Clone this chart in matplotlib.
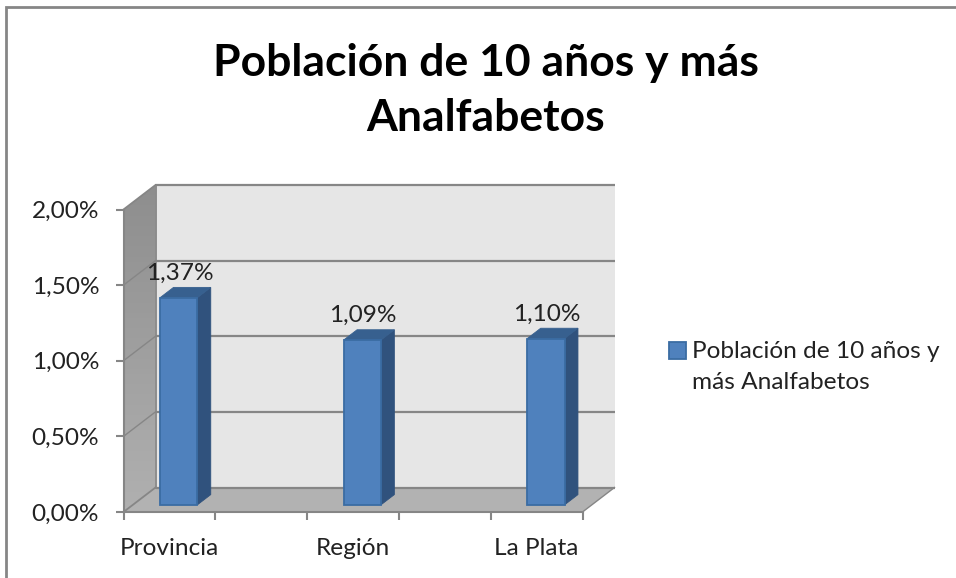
import numpy as np
import matplotlib
matplotlib.use("Agg")
import matplotlib.pyplot as plt
from matplotlib.colors import LinearSegmentedColormap
from matplotlib.patches import Polygon, Rectangle

categories = ["Provincia", "", "Región", "", "La Plata"]
values = [1.37, np.nan, 1.09, np.nan, 1.10]
value_labels = ["1,37%", "", "1,09%", "", "1,10%"]
y_ticks = [0.0, 0.5, 1.0, 1.5, 2.0]
y_tick_labels = ["0,00%", "0,50%", "1,00%", "1,50%", "2,00%"]
title = "Población de 10 años y más\nAnalfabetos"
series_name = "Población de 10 años y\nmás Analfabetos"

W, H = 956, 578
# front plane of the fake 3d box, in pixels from the top left
LEFT, RIGHT, TOP, BOTTOM = 123.5, 582.5, 209.5, 512.0

# depth of the box in data units
DX = 32.0 / ((RIGHT - LEFT) / 5)
DY = 24.5 / ((BOTTOM - TOP) / 2)
BAR_WIDTH = 0.406
BAR_D0, BAR_D1 = 0.29, 0.71
FONT_SIZE = 17.6
TEXT_COLOR = "#222222"
GRID = "#868686"


def pt(x, y, d):
    return (x + d * DX, y + d * DY)


plt.rcParams["font.family"] = ["Lato", "DejaVu Sans"]

fig = plt.figure(figsize=(W / 100, H / 100), dpi=100)
ax = fig.add_axes([LEFT / W, 1 - BOTTOM / H, (RIGHT - LEFT) / W, (BOTTOM - TOP) / H])
ax.patch.set_visible(False)

x0, x1 = -0.5, 4.5

# outer frame of the chart
fig.add_artist(Rectangle((5.5 / W, -0.1), 1.2, 1.1 - 7.5 / H, transform=fig.transFigure,
                         fill=False, edgecolor=GRID, linewidth=2))

# back wall, side wall, floor
back = [pt(x0, 0, 1), pt(x1, 0, 1), pt(x1, 2, 1), pt(x0, 2, 1)]
ax.add_patch(Polygon(back, closed=True, facecolor="#E6E6E6", edgecolor="none", zorder=1, clip_on=False))

side = [pt(x0, 0, 0), pt(x0, 0, 1), pt(x0, 2, 1), pt(x0, 2, 0)]
side_patch = Polygon(side, closed=True, facecolor="none", edgecolor="none")
ax.add_patch(side_patch)
side_patch.set_clip_on(False)
wall_cmap = LinearSegmentedColormap.from_list("wall", ["#B0B0B0", "#8E8E8E"])
shade = ax.imshow(np.linspace(0, 1, 64).reshape(-1, 1), cmap=wall_cmap,
                  extent=(x0, x0 + DX, 0, 2 + DY), origin="lower", aspect="auto", zorder=1)
# the wall sticks out above the axes, so clip to the figure and the wall shape only
shade.set_clip_box(fig.bbox)
shade.set_clip_path(side_patch)
ax.set_xlim(-0.5, 4.5)
ax.set_ylim(0, 2)

floor = [pt(x0, 0, 0), pt(x1, 0, 0), pt(x1, 0, 1), pt(x0, 0, 1)]
ax.add_patch(Polygon(floor, closed=True, facecolor="#B2B2B2", edgecolor="none", zorder=1, clip_on=False))

# gridlines run round the side wall and along the back
for v in y_ticks:
    xs, ys = zip(pt(x0, v, 0), pt(x0, v, 1), pt(x1, v, 1))
    lw = 1.0 if v not in (0.0, 2.0) else 1.3
    ax.plot(xs[1:], ys[1:], color=GRID, lw=1.6, zorder=2, clip_on=False, solid_capstyle="butt")
    ax.plot(xs[:2], ys[:2], color=GRID, lw=lw, zorder=2, clip_on=False)

xs, ys = zip(pt(x0, 0, 1), pt(x0, 2, 1))
ax.plot(xs, ys, color=GRID, lw=1.3, zorder=2, clip_on=False)
xs, ys = zip(pt(x1, 0, 0), pt(x1, 0, 1))
ax.plot(xs, ys, color=GRID, lw=1.0, zorder=2, clip_on=False)

# bars: front face through bar(), side and top faces pushed back by depth
positions = np.arange(len(categories))
d0x, d0y = BAR_D0 * DX, BAR_D0 * DY
ax.bar(positions + d0x, values, BAR_WIDTH, bottom=d0y, color="#4F81BD", edgecolor="#3A6CA3",
       linewidth=1.3, zorder=4, clip_on=False, label=series_name)
for x, v, lab in zip(positions, values, value_labels):
    if np.isnan(v):
        continue
    xl, xr = x - BAR_WIDTH / 2, x + BAR_WIDTH / 2
    ax.add_patch(Polygon([pt(xr, 0, BAR_D0), pt(xr, 0, BAR_D1), pt(xr, v, BAR_D1), pt(xr, v, BAR_D0)],
                         closed=True, facecolor="#30527D", edgecolor="#30527D", lw=0.6, zorder=3, clip_on=False))
    ax.add_patch(Polygon([pt(xl, v, BAR_D0), pt(xr, v, BAR_D0), pt(xr, v, BAR_D1), pt(xl, v, BAR_D1)],
                         closed=True, facecolor="#37608F", edgecolor="#37608F", lw=0.6, zorder=3, clip_on=False))
    tx, ty = pt(x, v, BAR_D0 + 0.03)
    ax.annotate(lab, (tx, ty), xytext=(0, 13), textcoords="offset pixels", ha="center", va="bottom",
                fontsize=FONT_SIZE, color=TEXT_COLOR, zorder=6, annotation_clip=False)

# axes
for s in ("top", "right"):
    ax.spines[s].set_visible(False)
for s in ("left", "bottom"):
    ax.spines[s].set_color(GRID)
    ax.spines[s].set_linewidth(1.5)
    ax.spines[s].set_zorder(3)

ax.set_yticks(y_ticks, y_tick_labels)
ax.set_xticks(np.arange(-0.5, 5.0, 1.0), [])
ax.set_xticks(positions, categories, minor=True)
ax.tick_params(axis="y", length=5.5, width=1.5, color=GRID, labelsize=FONT_SIZE, labelcolor=TEXT_COLOR, pad=12)
ax.tick_params(axis="x", which="major", length=5.5, width=1.5, color=GRID)
ax.tick_params(axis="x", which="minor", length=0, labelsize=FONT_SIZE, labelcolor=TEXT_COLOR, pad=18.5)

fig.text(486 / W, 1 - 90.5 / H, title, ha="center", va="center", fontsize=32, fontweight="bold",
         color="black", linespacing=1.46)

leg = fig.legend(loc="upper left", bbox_to_anchor=(669 / W, 1 - 341 / H), frameon=False, fontsize=FONT_SIZE,
                 labelcolor=TEXT_COLOR, handlelength=0.7, handleheight=0.7, handletextpad=0.25,
                 borderpad=0, borderaxespad=0, labelspacing=0)
leg.get_texts()[0].set_linespacing(1.6)
# move the swatch up to sit beside the first line of the label
swatch = leg.legend_handles[0]
swatch.set_y(swatch.get_y() + 12.2)

fig.savefig("out.png", dpi=100)
